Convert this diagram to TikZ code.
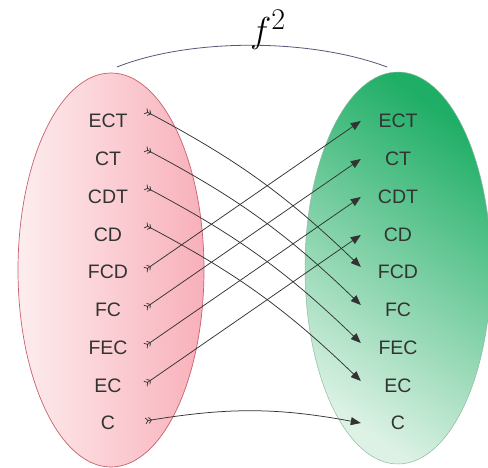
\documentclass[tikz,border=0pt]{standalone}
\usepackage{fontspec}
\setmainfont{Liberation Sans}
\usetikzlibrary{arrows.meta,shadings}
\definecolor{txt}{HTML}{333333}
\definecolor{arr}{HTML}{333333}
\definecolor{pinkedge}{HTML}{C8606C}
\definecolor{pinkdark}{HTML}{F8B0BA}
\definecolor{pinklight}{HTML}{FDEDEE}
\definecolor{greendark}{HTML}{1FAE66}
\definecolor{greenlight}{HTML}{DDF2E5}
\definecolor{greenedge}{HTML}{8FB8A0}
\definecolor{arcc}{HTML}{55577A}
\tikzset{
  lbl/.style={font=\fontsize{19.5}{21}\selectfont, text=txt, minimum width=74pt, inner sep=0pt, minimum height=14pt},
  conn/.style={draw=arr, line width=0.75pt,
    {Straight Barb[reversed,length=2.5pt,width=6pt] Straight Barb[reversed,length=2.5pt,width=6pt]}-{Triangle[length=10pt,width=8pt]}},
}
\begin{document}
\begin{tikzpicture}[x=1pt,y=-1pt]
\useasboundingbox (0,0) rectangle (488,468);
% ellipses
\shade[left color=pinklight, right color=pinkdark, draw=pinkedge, line width=0.7pt]
  (111,270) ellipse [x radius=93, y radius=197];
\shade[bottom color=greenlight, top color=greendark, shading angle=-35, draw=greenedge, line width=0.5pt]
  (398,268) ellipse [x radius=93, y radius=196];
% top arc
\draw[arcc, line width=0.8pt] (117,67) .. controls (190,38) and (310,38) .. (387,67);
\node[font=\Huge, scale=1.45, inner sep=0pt] (f) at (268,30) {$f^{2}$};
% labels
\foreach \n/\t/\y in {1/ECT/121,2/CT/159,3/CDT/197,4/CD/235,5/FCD/272,6/FC/310,7/FEC/348,8/EC/386,9/C/423}{
  \node[lbl] (L\n) at (108,\y) {\t};
  \node[lbl] (R\n) at (398,\y) {\t};
}
% descending arrows
\draw[conn] ([yshift=10pt]L1.east) to[bend left=8] ([yshift=5pt]R5.west);
\draw[conn] ([yshift=10pt]L2.east) to[bend left=8] ([yshift=5pt]R6.west);
\draw[conn] ([yshift=10pt]L3.east) to[bend left=8] ([yshift=5pt]R7.west);
\draw[conn] ([yshift=10pt]L4.east) to[bend left=8] ([yshift=5pt]R8.west);
% ascending arrows
\draw[conn] ([yshift=2pt]L5.east) -- (R1.west);
\draw[conn] ([yshift=2pt]L6.east) -- (R2.west);
\draw[conn] ([yshift=2pt]L7.east) -- (R3.west);
\draw[conn] ([yshift=2pt]L8.east) -- (R4.west);
% C to C
\draw[conn] ([yshift=2pt]L9.east) to[bend left=10] (R9.west);
\end{tikzpicture}
\end{document}
